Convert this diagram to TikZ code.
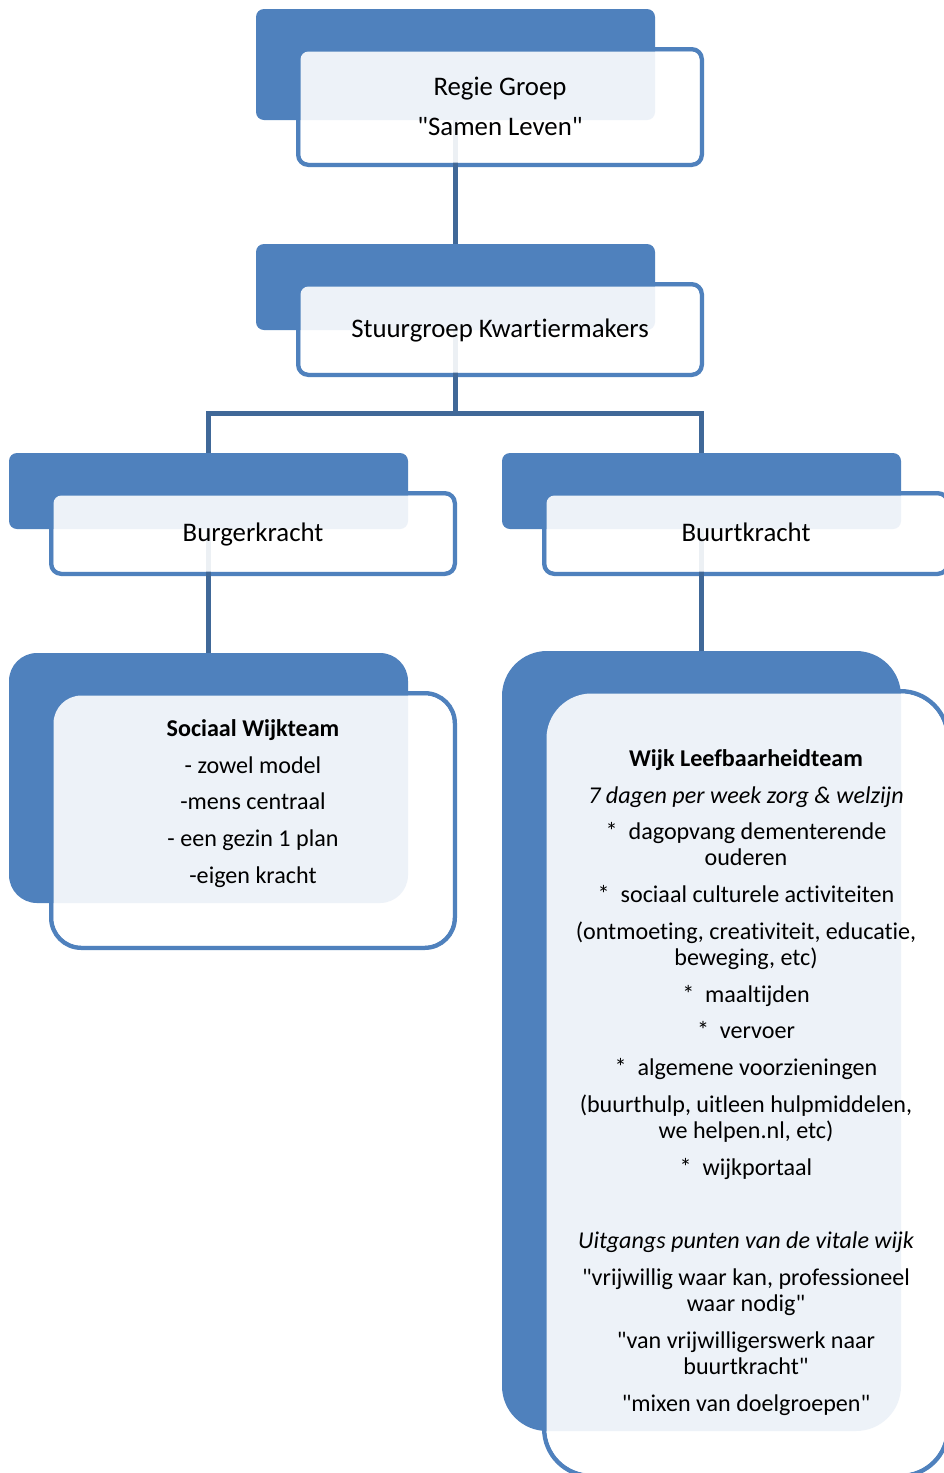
\documentclass[tikz,border=0pt]{standalone}
\usepackage{fontspec}
\newfontfamily\carlito{Carlito}[Ligatures=NoCommon]
\definecolor{accblue}{HTML}{4F81BD}
\definecolor{connblue}{HTML}{406898}
\pgfdeclarelayer{outl}
\pgfdeclarelayer{conn}
\pgfdeclarelayer{blue}
\pgfdeclarelayer{veil}
\pgfsetlayers{outl,conn,blue,veil,main}
\tikzset{
  bluebox/.style={draw=none, fill=accblue, inner sep=0, outer sep=0},
  outbox/.style={draw=accblue, fill=white, line width=4.5pt, inner sep=0, outer sep=0},
  veilbox/.style={draw=none, fill=white, fill opacity=0.9, inner sep=0, outer sep=0},
  conn/.style={draw=connblue, line width=5pt, line join=miter},
  txt/.style={anchor=base, inner sep=0, text=black, font=\carlito\fontsize{26.8}{26}\selectfont},
  stxt/.style={anchor=base, inner sep=0, text=black, font=\carlito\fontsize{24.1}{26}\selectfont},
}
% #1 name, #2 cx, #3 cy, #4 w, #5 h, #6 r, #7 outline w, #8 outline h, #9 outline r
\newcommand\orgitem[9]{%
  \begin{pgfonlayer}{blue}
    \node[bluebox, minimum width=#4, minimum height=#5, rounded corners=#6] (#1) at (#2,#3) {};
  \end{pgfonlayer}
  \begin{pgfonlayer}{outl}
    \node[outbox, minimum width=#7, minimum height=#8, rounded corners=#9] (#1O) at ([shift={(44.5,42.5)}]#1.center) {};
  \end{pgfonlayer}
  \begin{pgfonlayer}{veil}
    \node[veilbox, minimum width=#4, minimum height=#5, rounded corners=#6] (#1V) at (#1O.center) {};
  \end{pgfonlayer}
}
\begin{document}
\begin{tikzpicture}[x=1pt, y=-1pt]
\useasboundingbox (0,0) rectangle (943,1473);
\begin{pgfonlayer}{outl}
  \fill[white] (0,0) rectangle (943,1473);
\end{pgfonlayer}

\orgitem{regie}{455.5}{64.5}{399}{111}{8}{403.5}{115.5}{10}
\orgitem{stuur}{455.5}{287}{399}{86}{8}{403.5}{90.5}{10}
\orgitem{burger}{208.5}{491}{399}{76}{8}{403.5}{80.5}{10}
\orgitem{buurt}{701.5}{491}{399}{76}{8}{403.5}{80.5}{10}
\orgitem{sociaal}{208.5}{778}{399}{250}{28}{403.5}{254.5}{30}
\orgitem{wijk}{701.5}{1041}{399}{780}{45}{403.5}{784.5}{47}

\coordinate (bar) at (455.5,413);
\begin{pgfonlayer}{conn}
  \draw[conn] (regie.center) -- (stuur.center);
  \draw[conn] (stuur.center) -- (bar);
  \draw[conn] (burger.center) -- (burger.center |- bar) -- (buurt.center |- bar) -- (buurt.center);
  \draw[conn] (burger.center) -- (sociaal.center);
  \draw[conn] (buurt.center) -- (wijk.center);
\end{pgfonlayer}

% texts
\node[txt] (t1) at (500,95) {Regie Groep};
\node[txt] (t2) at (500,135) {"Samen Leven"};
\node[txt] (t3) at (500,337) {Stuurgroep Kwartiermakers};
\node[txt] (t4) at (253,541) {Burgerkracht};
\node[txt] (t5) at (746,541) {Buurtkracht};

\node[stxt, font=\carlito\fontsize{24.1}{26}\selectfont\bfseries] (s1) at (253,736) {Sociaal Wijkteam};
\node[stxt] (s2) at (253,773) {- zowel model};
\node[stxt] (s3) at (253,809) {-mens centraal};
\node[stxt] (s4) at (253,846) {- een gezin 1 plan};
\node[stxt] (s5) at (253,883) {-eigen kracht};

\node[stxt, font=\carlito\fontsize{24.1}{26}\selectfont\bfseries] (w1) at (746,766) {Wijk Leefbaarheidteam};
\node[stxt, font=\carlito\fontsize{24.1}{26}\selectfont\itshape] (w2) at (746,803) {7 dagen per week zorg \& welzijn};
\node[stxt] (w3) at (746,839) {*\ \ dagopvang dementerende};
\node[stxt] (w4) at (746,865) {ouderen};
\node[stxt] (w5) at (746,902) {*\ \ sociaal culturele activiteiten};
\node[stxt] (w6) at (746,939) {(ontmoeting, creativiteit, educatie,};
\node[stxt] (w7) at (746,965) {beweging, etc)};
\node[stxt] (w8) at (746,1002) {*\ \ maaltijden};
\node[stxt] (w9) at (746,1038) {*\ \ vervoer};
\node[stxt] (w10) at (746,1075) {*\ \ algemene voorzieningen};
\node[stxt] (w11) at (746,1112) {(buurthulp, uitleen hulpmiddelen,};
\node[stxt] (w12) at (746,1138) {we helpen.nl, etc)};
\node[stxt] (w13) at (746,1175) {*\ \ wijkportaal};
\node[stxt, font=\carlito\fontsize{24.1}{26}\selectfont\itshape] (w14) at (746,1248) {Uitgangs punten van de vitale wijk};
\node[stxt] (w15) at (746,1285) {"vrijwillig waar kan, professioneel};
\node[stxt] (w16) at (746,1311) {waar nodig"};
\node[stxt] (w17) at (746,1348) {"van vrijwilligerswerk naar};
\node[stxt] (w18) at (746,1374) {buurtkracht"};
\node[stxt] (w19) at (746,1411) {"mixen van doelgroepen"};
\end{tikzpicture}
\end{document}
